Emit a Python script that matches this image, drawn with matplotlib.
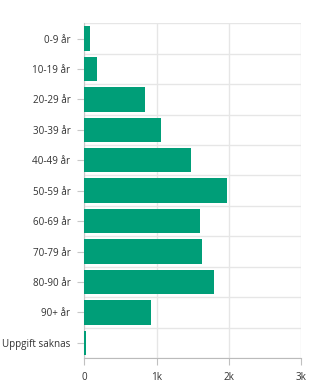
import matplotlib
matplotlib.use("Agg")
import matplotlib.pyplot as plt
import numpy as np

categories = ["0-9 år", "10-19 år", "20-29 år", "30-39 år", "40-49 år",
              "50-59 år", "60-69 år", "70-79 år", "80-90 år", "90+ år",
              "Uppgift saknas"]
values = [79, 176, 840, 1061, 1476, 1974, 1600, 1628, 1794, 918, 20]
x_ticks = [0, 1000, 2000, 3000]
x_tick_labels = ["0", "1k", "2k", "3k"]

plt.rcParams['font.family'] = ['Open Sans', 'DejaVu Sans']

fig = plt.figure(figsize=(3.3, 3.89), dpi=100)
ax = fig.add_axes([0.2555, 0.0797, 0.6575, 0.8604])

y = np.arange(len(categories))
ax.barh(y, values, height=0.8, color='#009e78', zorder=3)

ax.set_ylim(len(categories) - 0.5, -0.5)
ax.set_xlim(0, 3000)

ax.set_yticks(y)
ax.set_yticklabels(categories)
ax.set_yticks(np.arange(-0.5, len(categories)), minor=True)
ax.set_xticks(x_ticks)
ax.set_xticklabels(x_tick_labels)

# light grid: vertical at the k marks, horizontal between categories
ax.grid(True, axis='x', which='major', color='#e6e6e6', linewidth=1, zorder=0)
ax.grid(True, axis='y', which='minor', color='#e6e6e6', linewidth=1, zorder=0)
ax.tick_params(axis='y', which='minor', length=0)
ax.tick_params(axis='y', which='major', length=5, color='#c8c8c8',
               labelsize=7.1, labelcolor='#333333', pad=5)
ax.tick_params(axis='x', which='major', length=5, color='#c0c0c0',
               labelsize=7.1, labelcolor='#333333', pad=5)

for side in ['top', 'right']:
    ax.spines[side].set_visible(False)
ax.spines['left'].set_color('#c8c8c8')
ax.spines['bottom'].set_color('#bbbbbb')

fig.savefig('out.png', dpi=100)
